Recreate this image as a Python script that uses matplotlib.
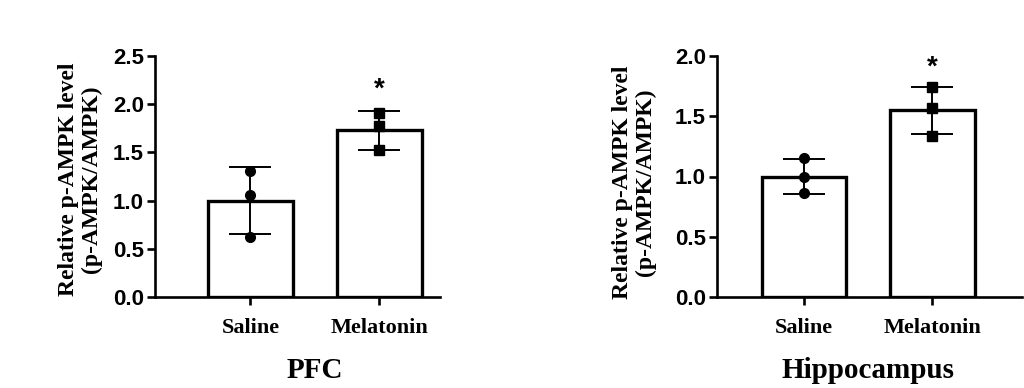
import matplotlib
matplotlib.use("Agg")
import matplotlib.pyplot as plt
import numpy as np

groups = ["Saline", "Melatonin"]
panels = ["PFC", "Hippocampus"]

pfc_means = [1.0, 1.73]
pfc_sd = [0.35, 0.20]
pfc_saline_pts = [1.31, 1.06, 0.62]
pfc_melatonin_pts = [1.91, 1.77, 1.52]

hip_means = [1.0, 1.55]
hip_sd = [0.145, 0.195]
hip_saline_pts = [1.15, 1.00, 0.86]
hip_melatonin_pts = [1.74, 1.57, 1.34]

pfc_yticks = [0.0, 0.5, 1.0, 1.5, 2.0, 2.5]
hip_yticks = [0.0, 0.5, 1.0, 1.5, 2.0]

star_y = [2.15, 1.9]

serif = "Liberation Serif"
sans = "Liberation Sans"

fig = plt.figure(figsize=(10.24, 3.88), dpi=100)

specs = [
    dict(rect=[155/1024, 1-297/388, 285/1024, 241/388], xlim=(-0.74, 1.47), ylim=(0, 2.5),
         means=pfc_means, sd=pfc_sd, pts=[pfc_saline_pts, pfc_melatonin_pts], yticks=pfc_yticks,
         star=star_y[0], title=panels[0], labx=-0.263, laby=0.49),
    dict(rect=[717/1024, 1-297/388, 305/1024, 241/388], xlim=(-0.677, 1.70), ylim=(0, 2.0),
         means=hip_means, sd=hip_sd, pts=[hip_saline_pts, hip_melatonin_pts], yticks=hip_yticks,
         star=star_y[1], title=panels[1], labx=-0.272, laby=0.477),
]

for s in specs:
    ax = fig.add_axes(s["rect"])
    x = np.arange(len(groups))
    ax.bar(x, s["means"], width=0.66, color="white", edgecolor="black", linewidth=2.4, zorder=2)
    ax.errorbar(x, s["means"], yerr=s["sd"], fmt="none", ecolor="black", elinewidth=1.4,
                capsize=15, capthick=1.4, zorder=3)
    markers = ["o", "s"]
    for i, p in enumerate(s["pts"]):
        ax.plot([x[i]] * len(p), p, linestyle="none", marker=markers[i], color="black",
                markersize=7 if markers[i] == "o" else 6.5, zorder=4)
    ax.set_xlim(*s["xlim"])
    ax.set_ylim(*s["ylim"])
    ax.set_yticks(s["yticks"])
    ax.set_yticklabels([f"{v:.1f}" for v in s["yticks"]], fontfamily=sans, fontweight="bold", fontsize=16)
    ax.set_xticks(x)
    ax.set_xticklabels(groups, fontfamily=serif, fontweight="bold", fontsize=16)
    for side in ["top", "right"]:
        ax.spines[side].set_visible(False)
    for side in ["left", "bottom"]:
        ax.spines[side].set_linewidth(1.9)
    ax.tick_params(axis="both", direction="out", width=1.9, length=6, pad=2)
    ax.tick_params(axis="x", pad=9)
    ax.text(s["labx"], s["laby"], "Relative p-AMPK level\n(p-AMPK/AMPK)", transform=ax.transAxes,
            rotation=90, ha="center", va="center", multialignment="center",
            fontfamily=serif, fontweight="bold", fontsize=17, linespacing=1.1)
    ax.text(1, s["star"], "*", ha="center", va="center", fontfamily=sans, fontweight="bold", fontsize=20)
    tr = matplotlib.transforms.blended_transform_factory(ax.transData, fig.transFigure)
    ax.text(0.5, 1 - 370/388, s["title"], transform=tr, ha="center", va="center",
            fontfamily=serif, fontweight="bold", fontsize=21)
    ax.patch.set_alpha(0)

fig.savefig("out.png", dpi=100, facecolor="white")
